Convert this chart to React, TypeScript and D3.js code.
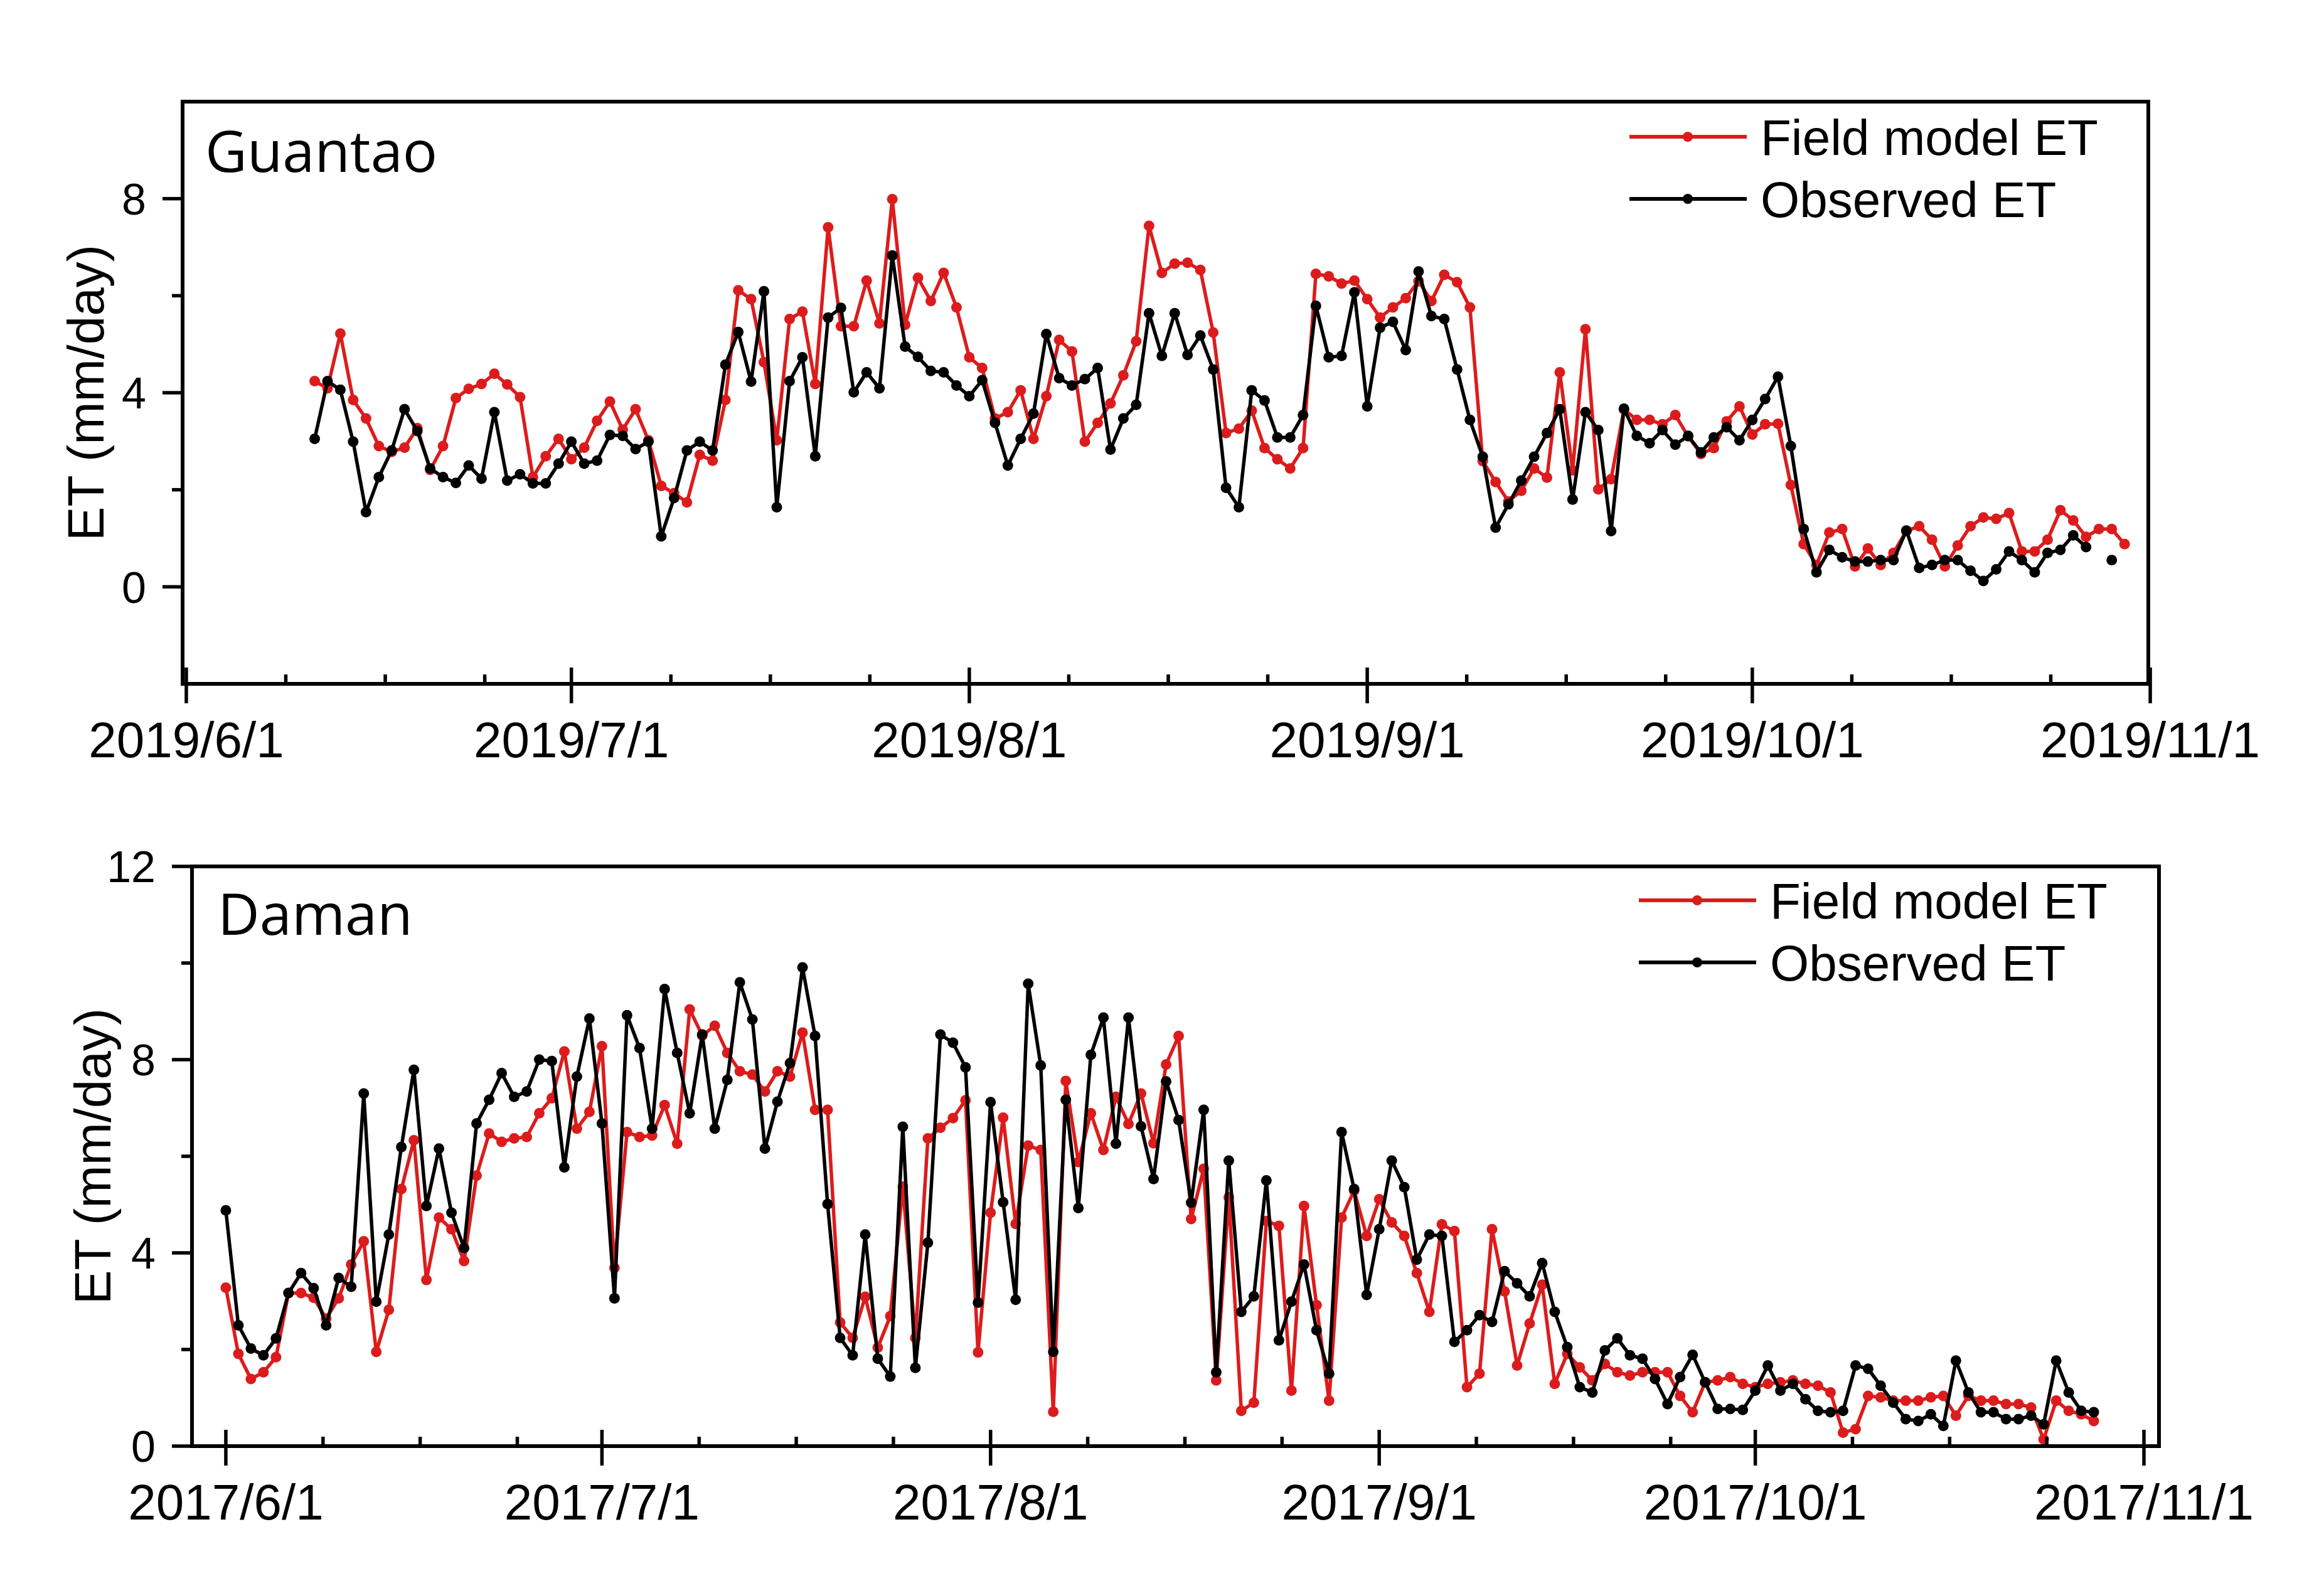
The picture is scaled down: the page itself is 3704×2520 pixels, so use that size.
import React from 'react';
import * as d3 from 'd3';

// ---------------- DATA ----------------
// Guantao (2019): daily values starting 2019/6/11
const guantaoStart = '2019/6/11';
const guantaoModel: (number | null)[] = [
  4.24, 4.09, 5.22, 3.85, 3.47, 2.90, 2.78, 2.87, 3.27, 2.41,
  2.90, 3.89, 4.08, 4.18, 4.39, 4.17, 3.91, 2.26, 2.69, 3.05,
  2.63, 2.87, 3.42, 3.82, 3.24, 3.66, 3.02, 2.08, 1.93, 1.74,
  2.72, 2.60, 3.85, 6.11, 5.93, 4.63, 3.02, 5.52, 5.67, 4.18,
  7.41, 5.37, 5.37, 6.31, 5.43, 7.99, 5.40, 6.37, 5.89, 6.47,
  5.76, 4.73, 4.51, 3.47, 3.60, 4.05, 3.05, 3.93, 5.09, 4.85,
  2.99, 3.38, 3.78, 4.36, 5.06, 7.44, 6.47, 6.66, 6.68, 6.53,
  5.24, 3.17, 3.26, 3.63, 2.86, 2.63, 2.44, 2.86, 6.45, 6.40,
  6.25, 6.31, 5.93, 5.55, 5.76, 5.95, 6.30, 5.89, 6.43, 6.28,
  5.76, 2.59, 2.16, 1.76, 1.98, 2.44, 2.25, 4.42, 2.40, 5.31,
  2.01, 2.22, 3.66, 3.44, 3.44, 3.35, 3.54, 3.10, 2.74, 2.86,
  3.41, 3.72, 3.14, 3.35, 3.36, 2.10, 0.88, 0.45, 1.12, 1.19,
  0.42, 0.79, 0.45, 0.70, 1.15, 1.25, 0.97, 0.42, 0.85, 1.25,
  1.43, 1.40, 1.52, 0.73, 0.73, 0.97, 1.58, 1.37, 1.03, 1.19,
  1.19, 0.88,
];
const guantaoObs: (number | null)[] = [
  3.05, 4.24, 4.06, 2.99, 1.54, 2.26, 2.81, 3.66, 3.21, 2.44,
  2.26, 2.14, 2.50, 2.23, 3.60, 2.19, 2.32, 2.13, 2.13, 2.54,
  2.99, 2.54, 2.60, 3.13, 3.11, 2.84, 2.99, 1.04, 1.83, 2.81,
  2.99, 2.81, 4.58, 5.25, 4.23, 6.09, 1.64, 4.24, 4.73, 2.69,
  5.55, 5.75, 4.01, 4.42, 4.09, 6.83, 4.95, 4.74, 4.45, 4.42,
  4.15, 3.93, 4.26, 3.38, 2.50, 3.05, 3.57, 5.21, 4.30, 4.15,
  4.28, 4.51, 2.83, 3.47, 3.75, 5.64, 4.76, 5.64, 4.78, 5.18,
  4.48, 2.04, 1.64, 4.05, 3.84, 3.08, 3.08, 3.54, 5.79, 4.73,
  4.76, 6.07, 3.72, 5.34, 5.46, 4.88, 6.50, 5.58, 5.52, 4.48,
  3.44, 2.68, 1.22, 1.70, 2.19, 2.68, 3.17, 3.66, 1.80, 3.60,
  3.23, 1.15, 3.67, 3.11, 2.96, 3.23, 2.93, 3.11, 2.77, 3.08,
  3.29, 3.02, 3.44, 3.87, 4.33, 2.90, 1.19, 0.30, 0.76, 0.61,
  0.52, 0.52, 0.55, 0.55, 1.16, 0.39, 0.45, 0.55, 0.55, 0.33,
  0.12, 0.36, 0.73, 0.55, 0.30, 0.70, 0.76, 1.06, 0.82, null,
  0.55,
];

// Daman (2017): daily values starting 2017/6/1
const damanStart = '2017/6/1';
const damanModel: (number | null)[] = [
  3.28, 1.91, 1.39, 1.53, 1.84, 3.17, 3.17, 3.07, 2.64, 3.06,
  3.76, 4.24, 1.95, 2.82, 5.32, 6.33, 3.44, 4.73, 4.49, 3.83,
  5.60, 6.47, 6.30, 6.37, 6.40, 6.89, 7.20, 8.17, 6.57, 6.92,
  8.28, 3.69, 6.50, 6.40, 6.43, 7.06, 6.26, 9.04, 8.50, 8.70,
  8.14, 7.76, 7.69, 7.34, 7.76, 7.65, 8.56, 6.96, 6.96, 2.56,
  2.24, 3.09, 2.04, 2.69, 5.37, 2.24, 6.37, 6.59, 6.79, 7.16,
  1.94, 4.83, 6.80, 4.60, 6.22, 6.13, 0.71, 7.56, 5.88, 6.89,
  6.13, 7.23, 6.67, 7.30, 6.27, 7.90, 8.49, 4.70, 5.74, 1.36,
  5.15, 0.73, 0.90, 4.66, 4.56, 1.15, 4.97, 2.92, 0.94, 4.73,
  5.29, 4.35, 5.11, 4.63, 4.35, 3.58, 2.78, 4.59, 4.45, 1.22,
  1.50, 4.49, 3.20, 1.67, 2.54, 3.34, 1.29, 1.91, 1.63, 1.36,
  1.70, 1.53, 1.46, 1.53, 1.53, 1.53, 1.04, 0.70, 1.32, 1.36,
  1.43, 1.29, 1.22, 1.29, 1.32, 1.36, 1.29, 1.25, 1.11, 0.28,
  0.35, 1.04, 1.01, 0.94, 0.94, 0.94, 1.01, 1.04, 0.63, 1.04,
  0.94, 0.94, 0.87, 0.87, 0.80, 0.14, 0.94, 0.73, 0.66, 0.52,
];
const damanObs: (number | null)[] = [
  4.88, 2.50, 2.02, 1.88, 2.23, 3.17, 3.58, 3.27, 2.50, 3.48,
  3.30, 7.30, 2.99, 4.38, 6.19, 7.79, 4.97, 6.16, 4.83, 4.10,
  6.68, 7.17, 7.72, 7.23, 7.34, 8.00, 7.97, 5.77, 7.65, 8.85,
  6.68, 3.06, 8.92, 8.24, 6.57, 9.46, 8.14, 6.89, 8.52, 6.57,
  7.58, 9.60, 8.83, 6.16, 7.13, 7.93, 9.91, 8.49, 5.01, 2.24,
  1.88, 4.38, 1.81, 1.44, 6.61, 1.62, 4.21, 8.52, 8.35, 7.84,
  2.97, 7.12, 5.05, 3.03, 9.57, 7.88, 1.95, 7.17, 4.93, 8.10,
  8.87, 6.26, 8.87, 6.62, 5.53, 7.55, 6.75, 5.04, 6.96, 1.53,
  5.91, 2.78, 3.10, 5.50, 2.19, 2.99, 3.76, 2.40, 1.50, 6.50,
  5.32, 3.13, 4.49, 5.91, 5.36, 3.86, 4.38, 4.35, 2.16, 2.40,
  2.71, 2.57, 3.62, 3.37, 3.10, 3.79, 2.78, 2.05, 1.22, 1.11,
  1.98, 2.23, 1.88, 1.81, 1.39, 0.87, 1.43, 1.89, 1.32, 0.77,
  0.77, 0.75, 1.15, 1.67, 1.15, 1.29, 0.97, 0.73, 0.70, 0.73,
  1.67, 1.60, 1.25, 0.90, 0.56, 0.52, 0.66, 0.42, 1.77, 1.11,
  0.70, 0.70, 0.56, 0.56, 0.63, 0.45, 1.77, 1.11, 0.73, 0.70,
];

// Tick labels
const guantaoMonthTicks = ['2019/6/1', '2019/7/1', '2019/8/1', '2019/9/1', '2019/10/1', '2019/11/1'];
const damanMonthTicks = ['2017/6/1', '2017/7/1', '2017/8/1', '2017/9/1', '2017/10/1', '2017/11/1'];
const guantaoYTicks = [0, 4, 8];
const guantaoYMinor = [2, 6];
const damanYTicks = [0, 4, 8, 12];
const damanYMinor = [2, 6, 10];

const seriesNames = ['Field model ET', 'Observed ET'];
const yTitle = 'ET (mm/day)';

// ---------------- RENDER ----------------
const DAY = 86400000;
const RED = '#dc1c1c';
const BLACK = '#000000';
const TICK_FONT = "'Liberation Sans', Arial, sans-serif";
const TITLE_FONT = "'Open Sans', 'Noto Sans', sans-serif";

function parseYMD(s: string): Date {
  const [y, m, d] = s.split('/').map(Number);
  return new Date(Date.UTC(y, m - 1, d));
}

type PanelCfg = {
  name: string;
  start: string;
  model: (number | null)[];
  obs: (number | null)[];
  monthTicks: string[];
  yTicks: number[];
  yMinor: number[];
  yDomain: [number, number];
  dayMin: number;
  dayMax: number;
  left: number;
  right: number;
  top: number;
  bottom: number;
  nameX: number;
  nameY: number;
  yTitleX: number;
  legendX0: number;
  legendY0: number;
};

function Panel({ p }: { p: PanelCfg }) {
  const origin = parseYMD(p.monthTicks[0]);
  const x = d3
    .scaleUtc()
    .domain([new Date(origin.getTime() + p.dayMin * DAY), new Date(origin.getTime() + p.dayMax * DAY)])
    .range([p.left, p.right]);
  const y = d3.scaleLinear().domain(p.yDomain).range([p.bottom, p.top]);
  const start = parseYMD(p.start);
  type Pt = { date: Date; v: number | null };
  const toPts = (vals: (number | null)[]): Pt[] =>
    vals.map((v, i) => ({ date: new Date(start.getTime() + i * DAY), v }));
  const line = d3
    .line<Pt>()
    .defined((d) => d.v != null)
    .x((d) => x(d.date))
    .y((d) => y(d.v as number));

  const majors = p.monthTicks.map(parseYMD);
  const minors: Date[] = [];
  for (let i = 0; i < majors.length - 1; i++) {
    for (let k = 1; k <= 3; k++) minors.push(new Date(majors[i].getTime() + k * 7.75 * DAY));
  }

  const series = [
    { pts: toPts(p.model), color: RED },
    { pts: toPts(p.obs), color: BLACK },
  ];

  const yMid = (p.top + p.bottom) / 2;

  return (
    <g>
      {series.map((s, si) => (
        <g key={si}>
          <path d={line(s.pts) || ''} fill="none" stroke={s.color} strokeWidth={5.5} strokeLinejoin="round" />
          {s.pts
            .filter((d) => d.v != null)
            .map((d, i) => (
              <circle key={i} cx={x(d.date)} cy={y(d.v as number)} r={8.5} fill={s.color} />
            ))}
        </g>
      ))}
      <rect x={p.left} y={p.top} width={p.right - p.left} height={p.bottom - p.top} fill="none" stroke="#000" strokeWidth={6} />
      {p.yTicks.map((t) => (
        <g key={'y' + t}>
          <line x1={p.left - 32} x2={p.left} y1={y(t)} y2={y(t)} stroke="#000" strokeWidth={5.5} />
          <text x={p.left - 58} y={y(t)} dy="0.36em" textAnchor="end" fontFamily={TICK_FONT} fontSize={70} fill="#000">
            {t}
          </text>
        </g>
      ))}
      {p.yMinor.map((t) => (
        <line key={'ym' + t} x1={p.left - 17} x2={p.left} y1={y(t)} y2={y(t)} stroke="#000" strokeWidth={5.5} />
      ))}
      {majors.map((d, i) => (
        <g key={'x' + i}>
          <line x1={x(d)} x2={x(d)} y1={p.bottom - 26} y2={p.bottom + 31} stroke="#000" strokeWidth={5.5} />
          <text x={x(d)} y={p.bottom + 117} textAnchor="middle" fontFamily={TICK_FONT} fontSize={80} fill="#000">
            {p.monthTicks[i]}
          </text>
        </g>
      ))}
      {minors.map((d, i) => (
        <line key={'xm' + i} x1={x(d)} x2={x(d)} y1={p.bottom - 15} y2={p.bottom} stroke="#000" strokeWidth={5.5} />
      ))}
      <text
        transform={`translate(${p.yTitleX},${yMid}) rotate(-90)`}
        dy="0.36em"
        textAnchor="middle"
        fontFamily={TICK_FONT}
        fontSize={82}
        fill="#000"
      >
        {yTitle}
      </text>
      <text x={p.nameX} y={p.nameY} fontFamily={TITLE_FONT} fontSize={92} fill="#000">
        {p.name}
      </text>
      {seriesNames.map((n, i) => {
        const ly = p.legendY0 + i * 99;
        const color = i === 0 ? RED : BLACK;
        return (
          <g key={n}>
            <line x1={p.legendX0} x2={p.legendX0 + 187} y1={ly} y2={ly} stroke={color} strokeWidth={6} />
            <circle cx={p.legendX0 + 93} cy={ly} r={8} fill={color} />
            <text x={p.legendX0 + 209} y={ly} dy="0.36em" fontFamily={TICK_FONT} fontSize={80} fill="#000">
              {n}
            </text>
          </g>
        );
      })}
    </g>
  );
}

export default function App() {
  const panels: PanelCfg[] = [
    {
      name: 'Guantao',
      start: guantaoStart,
      model: guantaoModel,
      obs: guantaoObs,
      monthTicks: guantaoMonthTicks,
      yTicks: guantaoYTicks,
      yMinor: guantaoYMinor,
      yDomain: [-2, 10],
      dayMin: -0.29,
      dayMax: 152.85,
      left: 291,
      right: 3424,
      top: 162,
      bottom: 1090,
      nameX: 327,
      nameY: 274,
      yTitleX: 135,
      legendX0: 2597,
      legendY0: 218,
    },
    {
      name: 'Daman',
      start: damanStart,
      model: damanModel,
      obs: damanObs,
      monthTicks: damanMonthTicks,
      yTicks: damanYTicks,
      yMinor: damanYMinor,
      yDomain: [0, 12],
      dayMin: -2.7,
      dayMax: 154.2,
      left: 306,
      right: 3441,
      top: 1381,
      bottom: 2305,
      nameX: 347,
      nameY: 1490,
      yTitleX: 146,
      legendX0: 2612,
      legendY0: 1435,
    },
  ];
  return (
    <svg
      width={3704}
      height={2520}
      viewBox="0 0 3704 2520"
      style={{ position: 'absolute', left: 0, top: 0, background: '#fff' }}
    >
      <rect x={0} y={0} width={3704} height={2520} fill="#fff" />
      {panels.map((p) => (
        <Panel key={p.name} p={p} />
      ))}
    </svg>
  );
}
